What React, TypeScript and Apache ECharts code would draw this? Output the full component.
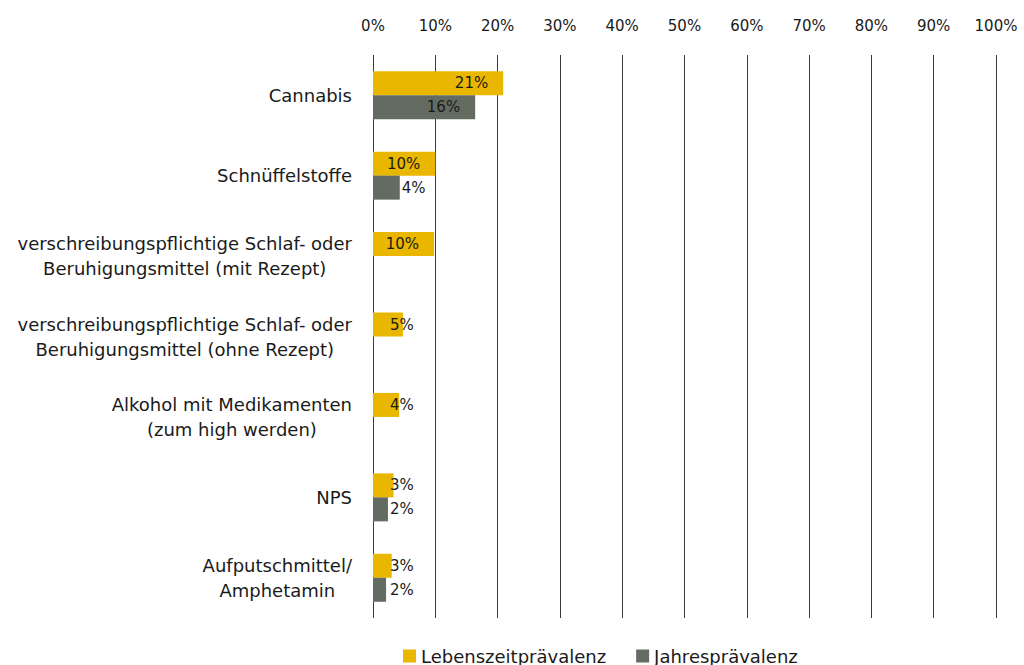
import React, { useEffect, useRef } from "react";
import * as echarts from "echarts";

const categories = [
  "Cannabis",
  "Schnüffelstoffe",
  "verschreibungspflichtige Schlaf- oder\nBeruhigungsmittel (mit Rezept)",
  "verschreibungspflichtige Schlaf- oder\nBeruhigungsmittel (ohne Rezept)",
  "Alkohol mit Medikamenten\n(zum high werden)",
  "NPS",
  "Aufputschmittel/\nAmphetamin",
];
const lebenszeit = [20.9, 10.0, 9.8, 4.8, 4.2, 3.3, 3.0];
const jahres: (number | null)[] = [16.4, 4.3, null, null, null, 2.4, 2.1];
const seriesNames = ["Lebenszeitprävalenz", "Jahresprävalenz"];

const YELLOW = "#E9B700";
const GRAY = "#646C62";
const FONT = "DejaVu Sans";

function labelFor(v: number | null) {
  if (v == null) return undefined;
  if (v >= 9.5) {
    return { show: true, position: "insideRight", distance: 15 };
  }
  return { show: true, position: [17, "50%"], align: "left", verticalAlign: "middle" };
}

function dataWithLabels(arr: (number | null)[], overrides: Record<number, any> = {}) {
  return arr.map((v, i) => {
    if (v == null) return null;
    return { value: v, label: overrides[i] || labelFor(v) };
  });
}

export default function App() {
  const ref = useRef<HTMLDivElement>(null);
  useEffect(() => {
    document.body.style.margin = "0";
    const chart = echarts.init(ref.current!, null, { renderer: "svg" });
    const labelBase = {
      color: "#1a1a1a",
      fontFamily: FONT,
      fontSize: 15,
      formatter: (p: any) => Math.round(p.value) + "%",
    };
    chart.setOption({
      animation: false,
      textStyle: { fontFamily: FONT },
      grid: { left: 373, right: 28, top: 55, bottom: 47, containLabel: false },
      legend: {
        left: 403,
        top: 647,
        padding: 0,
        itemWidth: 13,
        itemHeight: 13,
        itemGap: 30,
        icon: "rect",
        textStyle: { fontFamily: FONT, fontSize: 18, color: "#1a1a1a" },
        data: seriesNames,
      },
      xAxis: {
        type: "value",
        position: "top",
        min: 0,
        max: 100,
        interval: 10,
        axisLine: { show: false },
        axisTick: { show: false },
        axisLabel: {
          formatter: "{value}%",
          fontFamily: FONT,
          fontSize: 15,
          color: "#1a1a1a",
          margin: 22,
        },
        splitLine: { show: true, lineStyle: { color: "#3a3a3a", width: 1 } },
      },
      yAxis: {
        type: "category",
        inverse: true,
        data: categories,
        axisLine: { show: false },
        axisTick: { show: false },
        axisLabel: {
          margin: 21,
          align: "right",
          formatter: (v: string) =>
            v
              .split("\n")
              .map((l) => `{c|${l}}`)
              .join("\n"),
          rich: {
            c: {
              align: "center",
              fontFamily: FONT,
              fontSize: 18,
              lineHeight: 25,
              color: "#1a1a1a",
            },
          },
        },
      },
      series: [
        {
          name: seriesNames[0],
          type: "bar",
          barWidth: 24,
          barGap: "0%",
          itemStyle: { color: YELLOW },
          label: labelBase,
          data: dataWithLabels(lebenszeit),
        },
        {
          name: seriesNames[1],
          type: "bar",
          barWidth: 24,
          barGap: "0%",
          itemStyle: { color: GRAY },
          label: labelBase,
          data: dataWithLabels(jahres, {
            1: { show: true, position: "right", distance: 2 },
          }),
        },
      ],
    });
    return () => chart.dispose();
  }, []);
  return <div ref={ref} style={{ width: 1024, height: 665 }} />;
}
